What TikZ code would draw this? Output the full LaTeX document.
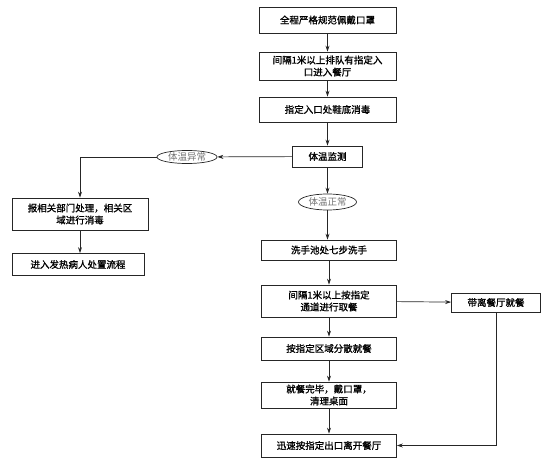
\documentclass[tikz,border=0pt]{standalone}
\usepackage{fontspec}
\setmainfont{Noto Sans CJK SC}[FakeBold=1.2]
\newfontfamily\ovalfont{Noto Sans CJK SC}
\usetikzlibrary{shapes.geometric,arrows.meta}
\begin{document}
\begin{tikzpicture}[x=1pt,y=-1pt,
  box/.style={draw=black!85,line width=0.8pt,rectangle,inner sep=1pt,align=center,font=\fontsize{9.5}{12}\selectfont},
  oval/.style={draw=black!85,line width=0.7pt,ellipse,inner sep=0pt,text=black!55,font=\ovalfont\fontsize{9.5}{10}\selectfont},
  conn/.style={draw=black!85,line width=0.7pt},
  arr/.style={conn,-{Stealth[length=6pt,width=4pt]}}]
\useasboundingbox (0,0) rectangle (554,470);
\node[box,minimum width=137pt,minimum height=26pt] (b1) at (327.5,20) {全程严格规范佩戴口罩};
\node[box,minimum width=137pt,minimum height=28pt] (b2) at (327.5,66) {间隔1米以上排队有指定入\\口进入餐厅};
\node[box,minimum width=137pt,minimum height=25pt] (b3) at (327.5,109.5) {指定入口处鞋底消毒};
\node[box,minimum width=70pt,minimum height=21pt] (b4) at (327.5,156.5) {体温监测};
\node[oval,minimum width=60pt,minimum height=13pt] (e1) at (187,157) {体温异常};
\node[oval,minimum width=58pt,minimum height=16pt] (e2) at (327.5,202) {体温正常};
\node[box,minimum width=136pt,minimum height=32pt] (l1) at (80,214) {报相关部门处理，相关区\\域进行消毒};
\node[box,minimum width=132pt,minimum height=22pt] (l2) at (78,264.5) {进入发热病人处置流程};
\node[box,minimum width=135pt,minimum height=20pt] (b5) at (329,250) {洗手池处七步洗手};
\node[box,minimum width=135pt,minimum height=32pt] (b6) at (329,301) {间隔1米以上按指定\\通道进行取餐};
\node[box,minimum width=89pt,minimum height=19pt] (d) at (496,302.5) {带离餐厅就餐};
\node[box,minimum width=135pt,minimum height=23pt] (b8) at (329,348.5) {按指定区域分散就餐};
\node[box,minimum width=135pt,minimum height=26pt] (b9) at (329,395) {就餐完毕，戴口罩，\\清理桌面};
\node[box,minimum width=135pt,minimum height=23pt] (b10) at (329,445.5) {迅速按指定出口离开餐厅};
\draw[arr] (b1) -- (b2);
\draw[arr] (b2) -- (b3);
\draw[arr] (b3) -- (b4);
\draw[arr] (b4) -- (e1);
\draw[arr] (b4) -- (e2);
\draw[arr] (e1.west) -| (l1.north);
\draw[arr] (l1.south -| 80,0) -- (l2.north -| 80,0);
\draw[arr] (e2.south) -- (b5.north -| e2.south);
\draw[arr] (b5) -- (b6);
\draw[arr] (b6) -- (d);
\draw[arr] (b6) -- (b8);
\draw[arr] (b8) -- (b9);
\draw[arr] (b9) -- (b10);
\draw[arr] (d.south) |- (b10.east);
\end{tikzpicture}
\end{document}
